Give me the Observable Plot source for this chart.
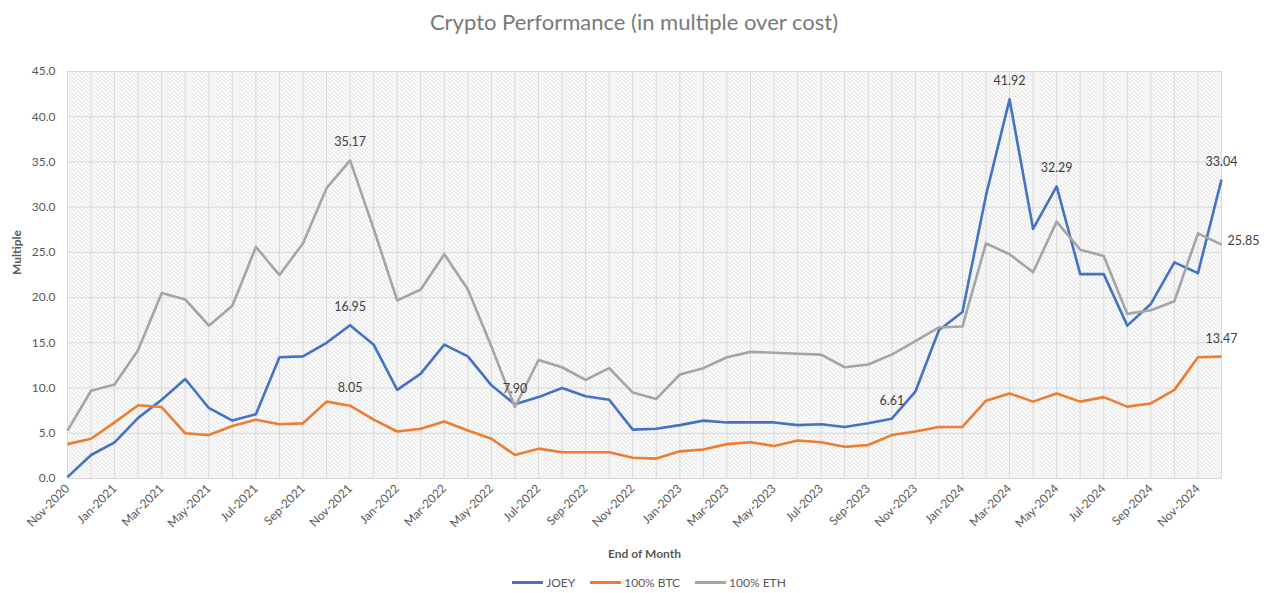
<!DOCTYPE html>
<html>
<head>
<meta charset="utf-8">
<script src="https://cdn.jsdelivr.net/npm/d3@7"></script>
<script src="https://cdn.jsdelivr.net/npm/@observablehq/plot@0.6"></script>
<style>
  body { margin: 0; background: #fff; font-family: Lato, "Open Sans", sans-serif; }
  #title { height: 45px; line-height: 44px; text-align: center; font-size: 22px; color: #7a7a7a; }
  #legend { display: flex; justify-content: center; font-size: 12px; color: #595959; height: 34px; align-items: center; padding-left: 30px; }
  .item { display: flex; align-items: center; margin: 0 7.5px; }
  .swatch { width: 31px; height: 3px; margin-right: 3px; }
</style>
</head>
<body>
<svg width="0" height="0" style="position:absolute">
  <defs>
    <pattern id="hatch" width="4" height="4" patternUnits="userSpaceOnUse">
      <rect width="4" height="4" fill="#ffffff"></rect>
      <path d="M0,0 L4,4 M-1,3 L1,5 M3,-1 L5,1" stroke="#cdcdcd" stroke-width="0.9"></path>
    </pattern>
  </defs>
</svg>
<div id="title">Crypto Performance (in multiple over cost)</div>
<div id="chart"></div>
<div id="legend"></div>
<script>
const months = ["Nov-2020","Dec-2020","Jan-2021","Feb-2021","Mar-2021","Apr-2021","May-2021","Jun-2021","Jul-2021","Aug-2021","Sep-2021","Oct-2021","Nov-2021","Dec-2021",
"Jan-2022","Feb-2022","Mar-2022","Apr-2022","May-2022","Jun-2022","Jul-2022","Aug-2022","Sep-2022","Oct-2022","Nov-2022","Dec-2022",
"Jan-2023","Feb-2023","Mar-2023","Apr-2023","May-2023","Jun-2023","Jul-2023","Aug-2023","Sep-2023","Oct-2023","Nov-2023","Dec-2023",
"Jan-2024","Feb-2024","Mar-2024","Apr-2024","May-2024","Jun-2024","Jul-2024","Aug-2024","Sep-2024","Oct-2024","Nov-2024","Dec-2024"];
const xTickLabels = ["Nov-2020","Jan-2021","Mar-2021","May-2021","Jul-2021","Sep-2021","Nov-2021","Jan-2022","Mar-2022","May-2022","Jul-2022","Sep-2022","Nov-2022",
"Jan-2023","Mar-2023","May-2023","Jul-2023","Sep-2023","Nov-2023","Jan-2024","Mar-2024","May-2024","Jul-2024","Sep-2024","Nov-2024"];
const yTicks = [0,5,10,15,20,25,30,35,40,45];

const joey = [0.15,2.6,4.0,6.7,8.7,11.0,7.8,6.4,7.1,13.4,13.5,15.0,16.95,14.8,9.8,11.6,14.8,13.5,10.3,8.2,9.0,10.0,9.1,8.7,5.4,5.5,5.9,6.4,6.2,6.2,6.2,5.9,6.0,5.7,6.1,6.61,9.6,16.4,18.4,31.3,41.92,27.6,32.29,22.6,22.6,16.9,19.3,23.9,22.7,33.04];
const btc = [3.8,4.4,6.2,8.1,7.9,5.0,4.8,5.8,6.5,6.0,6.1,8.5,8.05,6.5,5.2,5.5,6.3,5.3,4.4,2.6,3.3,2.9,2.9,2.9,2.3,2.2,3.0,3.2,3.8,4.0,3.6,4.2,4.0,3.5,3.7,4.8,5.2,5.7,5.7,8.6,9.4,8.5,9.4,8.5,9.0,7.95,8.3,9.8,13.4,13.47];
const eth = [5.3,9.7,10.4,14.2,20.5,19.8,16.9,19.1,25.6,22.5,26.0,32.1,35.17,27.6,19.7,20.9,24.8,20.9,14.6,7.90,13.1,12.3,10.9,12.2,9.5,8.8,11.5,12.2,13.4,14.0,13.9,13.8,13.7,12.3,12.6,13.7,15.2,16.7,16.8,26.0,24.8,22.8,28.4,25.3,24.6,18.2,18.6,19.6,27.1,25.85];

const seriesNames = ["JOEY","100% BTC","100% ETH"];
const seriesValues = [joey, btc, eth];
const seriesColors = ["#4472C4","#ED7D31","#A5A5A5"];

// data labels: [series, month]
const labelSeries = ["100% ETH","JOEY","100% BTC","100% ETH","JOEY","JOEY","JOEY","JOEY","100% BTC"];
const labelMonths = ["Nov-2021","Nov-2021","Nov-2021","Jun-2022","Oct-2023","Mar-2024","May-2024","Dec-2024","Dec-2024"];
const rightLabelSeries = ["100% ETH"];
const rightLabelMonths = ["Dec-2024"];

const rows = seriesNames.flatMap((s, k) => months.map((m, i) => ({series: s, month: m, idx: i, value: seriesValues[k][i]})));
const find = (s, m) => rows.find(r => r.series === s && r.month === m);
const labelRows = labelSeries.map((s, i) => find(s, labelMonths[i]));
const rightRows = rightLabelSeries.map((s, i) => find(s, rightLabelMonths[i]));
const monthIdx = months.map((m, i) => i);
const tickIdx = xTickLabels.map(l => months.indexOf(l));

const chart = Plot.plot({
  width: 1268,
  height: 520,
  marginLeft: 67,
  marginRight: 47,
  marginTop: 26,
  marginBottom: 87,
  style: {fontFamily: "Lato, 'Open Sans', sans-serif", fontSize: "12px", color: "#595959", background: "transparent"},
  x: {type: "linear", domain: [0, months.length - 1], label: null},
  y: {domain: [0, 45], label: null},
  marks: [
    Plot.frame({fill: "url(#hatch)", stroke: null}),
    Plot.ruleX(monthIdx, {stroke: "#d9d9d9", strokeWidth: 1}),
    Plot.ruleY(yTicks, {stroke: "#d9d9d9", strokeWidth: 1}),
    Plot.frame({stroke: "#d9d9d9", strokeWidth: 1}),
    Plot.axisY({ticks: yTicks, tickFormat: d3.format(".1f"), tickSize: 0, tickPadding: 12, label: null, fill: "#595959", fontSize: 12}),
    Plot.axisX({ticks: tickIdx, tickFormat: i => months[i], tickRotate: -45, tickSize: 0, tickPadding: 8, label: null, fill: "#595959", fontSize: 12}),
    ...seriesNames.map((s, k) => Plot.line(rows.filter(r => r.series === s), {
      x: "idx", y: "value", stroke: seriesColors[k], strokeWidth: 2.6, strokeLinejoin: "round", strokeLinecap: "butt"
    })),
    Plot.text(labelRows, {x: "idx", y: "value", text: d => d.value.toFixed(2), dy: -18, fill: "#404040", fontSize: 12.5}),
    Plot.text(rightRows, {x: "idx", y: "value", text: d => d.value.toFixed(2), dx: 6, dy: -4, textAnchor: "start", fill: "#404040", fontSize: 12.5}),
    Plot.text(["End of Month"], {text: d => d, frameAnchor: "bottom", dy: 79, fontWeight: "bold", fill: "#595959", fontSize: 12}),
    Plot.text(["Multiple"], {text: d => d, frameAnchor: "left", dx: -50, rotate: -90, fontWeight: "bold", fill: "#595959", fontSize: 12})
  ]
});
document.getElementById("chart").appendChild(chart);

const legend = document.getElementById("legend");
seriesNames.forEach((s, k) => {
  const item = document.createElement("div");
  item.className = "item";
  const sw = document.createElement("div");
  sw.className = "swatch";
  sw.style.background = seriesColors[k];
  const t = document.createElement("span");
  t.textContent = s;
  item.appendChild(sw);
  item.appendChild(t);
  legend.appendChild(item);
});
</script>
</body>
</html>
